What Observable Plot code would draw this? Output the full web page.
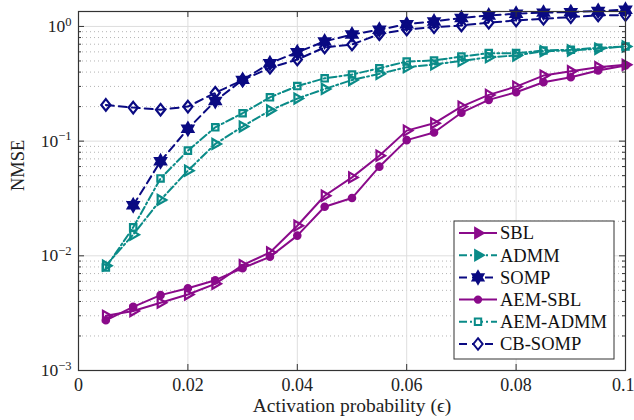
<!DOCTYPE html>
<html><head><meta charset="utf-8">
<script src="https://cdn.jsdelivr.net/npm/d3@7"></script>
<script src="https://cdn.jsdelivr.net/npm/@observablehq/plot@0.6"></script>
<style>
html,body{margin:0;padding:0;background:#fff;}
#chart{width:634px;height:420px;}
</style></head><body><div id="chart"></div>
<script>
// ---- data ----
const eps = [0.005, 0.01, 0.015, 0.02, 0.025, 0.03, 0.035, 0.04, 0.045, 0.05,
             0.055, 0.06, 0.065, 0.07, 0.075, 0.08, 0.085, 0.09, 0.095, 0.1];
const sbl     = [0.0030, 0.0033, 0.0039, 0.0046, 0.0057, 0.0083, 0.0107, 0.0183, 0.0334, 0.0483,
                 0.0747, 0.1235, 0.143, 0.200, 0.253, 0.299, 0.373, 0.407, 0.441, 0.463];
const admm    = [0.0082, 0.0153, 0.0307, 0.0553, 0.0945, 0.134, 0.185, 0.235, 0.285, 0.341,
                 0.386, 0.441, 0.466, 0.500, 0.539, 0.558, 0.609, 0.617, 0.639, 0.669];
const somp    = [null, 0.0276, 0.0667, 0.128, 0.224, 0.342, 0.478, 0.596, 0.740, 0.851,
                 0.936, 1.047, 1.106, 1.186, 1.247, 1.291, 1.320, 1.333, 1.366, 1.40];
const aemSbl  = [0.00274, 0.00359, 0.00454, 0.00522, 0.00613, 0.00781, 0.0098, 0.0150, 0.0268, 0.0319,
                 0.0599, 0.102, 0.119, 0.177, 0.229, 0.267, 0.326, 0.361, 0.413, 0.456];
const aemAdmm = [0.0079, 0.0177, 0.0473, 0.0826, 0.132, 0.175, 0.241, 0.302, 0.353, 0.381,
                 0.432, 0.495, 0.505, 0.547, 0.585, 0.585, 0.617, 0.626, 0.652, 0.669];
const cbSomp  = [0.207, 0.196, 0.188, 0.200, 0.264, 0.340, 0.436, 0.515, 0.656, 0.696,
                 0.857, 0.942, 0.986, 1.02, 1.079, 1.128, 1.168, 1.206, 1.247, 1.257];
const xTicks = [0, 0.02, 0.04, 0.06, 0.08, 0.1];
const yMajor = [1e-3, 1e-2, 1e-1, 1];
const xLabel = "Activation probability (ϵ)";
const yLabel = "NMSE";

// ---- symbols ----
const triRight = {draw(c, size){ const R = Math.sqrt(size/Math.PI)*1.2;
  c.moveTo(R,0); c.lineTo(-R/2,-R*0.866); c.lineTo(-R/2,R*0.866); c.closePath(); }};
const hexagram = {draw(c, size){ const R = Math.sqrt(size/Math.PI)*1.25, r = R/Math.sqrt(3);
  for (let i=0;i<12;i++){ const a=-Math.PI/2+i*Math.PI/6, q=i%2?r:R;
    const x=q*Math.cos(a), y=q*Math.sin(a); i?c.lineTo(x,y):c.moveTo(x,y);} c.closePath(); }};
const diamondM = {draw(c, size){ const R = Math.sqrt(size/Math.PI)*1.2, w=R*0.8;
  c.moveTo(0,-R); c.lineTo(w,0); c.lineTo(0,R); c.lineTo(-w,0); c.closePath(); }};

const purple = "#8a0a8a", teal = "#0a8b88", navy = "#0a0a82";
const dashDot = "8,3,2,3", dashed = "8,5";
const series = [
  {name:"SBL",      values:sbl,     color:purple, dash:null,    symbol:triRight,        fill:"none", lfill:purple, r:4.8},
  {name:"ADMM",     values:admm,    color:teal,   dash:dashDot, symbol:triRight,        fill:"none", lfill:teal,   r:4.8},
  {name:"SOMP",     values:somp,    color:navy,   dash:dashed,  symbol:hexagram,        fill:navy,   lfill:navy,   r:5},
  {name:"AEM-SBL",  values:aemSbl,  color:purple, dash:null,    symbol:d3.symbolCircle, fill:purple, lfill:purple, r:3.2},
  {name:"AEM-ADMM", values:aemAdmm, color:teal,   dash:dashDot, symbol:d3.symbolSquare, fill:"none", lfill:"white",  r:3.6},
  {name:"CB-SOMP",  values:cbSomp,  color:navy,   dash:dashed,  symbol:diamondM,        fill:"none", lfill:"white",  r:4.8},
];

const W = 634, H = 420, mL = 78, mR = 9, mT = 11, mB = 50;
const fh = H - mT - mB, fw = W - mL - mR;
const yMinor = [];
for (let k = -3; k < 0; k++) for (let m = 2; m <= 9; m++) yMinor.push(m * Math.pow(10, k));
const FONT = "Liberation Serif, DejaVu Serif, serif";

const marks = [
  Plot.gridY(yMinor, {stroke:"#b4b4b4", strokeOpacity:1, strokeDasharray:"1,3"}),
  Plot.gridX(xTicks, {stroke:"#dedede", strokeOpacity:1}),
  Plot.gridY(yMajor, {stroke:"#dedede", strokeOpacity:1}),
];
for (const s of series) {
  const rows = eps.map((e,i)=>({eps:e, v:s.values[i]})).filter(d=>d.v!=null);
  marks.push(Plot.line(rows, {x:"eps", y:"v", stroke:s.color, strokeWidth:2, strokeDasharray:s.dash}));
  marks.push(Plot.dot(rows, {x:"eps", y:"v", symbol:s.symbol, r:s.r, stroke:s.color, strokeWidth:2.2, fill:s.fill}));
}
const tc = "#333";
marks.push(
  Plot.tickX(xTicks, {x:d=>d, insetTop:fh-6, stroke:tc}),
  Plot.tickX(xTicks, {x:d=>d, insetBottom:fh-6, stroke:tc}),
  Plot.tickY(yMajor, {y:d=>d, insetRight:fw-6, stroke:tc}),
  Plot.tickY(yMajor, {y:d=>d, insetLeft:fw-6, stroke:tc}),
  Plot.tickY(yMinor, {y:d=>d, insetRight:fw-3, stroke:tc}),
  Plot.tickY(yMinor, {y:d=>d, insetLeft:fw-3, stroke:tc}),
  Plot.frame({stroke:"#333", strokeWidth:1.2}),
  Plot.axisX(xTicks, {tickSize:0, tickPadding:8, tickFormat:d=>String(d), label:null, fontSize:18, fontFamily:FONT}),
  Plot.axisY(yMajor, {tickSize:0, tickPadding:7, tickFormat:d=>String(Math.round(Math.log10(d))), label:null, fontSize:17.5, fontFamily:FONT}),
  Plot.text([xLabel], {frameAnchor:"bottom", dy:41, text:d=>d, fontSize:19.5, fontFamily:FONT}),
  Plot.text([yLabel], {frameAnchor:"left", dx:-60, rotate:-90, text:d=>d, fontSize:18.5, fontFamily:FONT})
);

const svg = Plot.plot({
  width:W, height:H, marginLeft:mL, marginRight:mR, marginTop:mT, marginBottom:mB,
  x:{domain:[0,0.1]},
  y:{type:"log", domain:[1e-3,1.35]},
  style:{fontFamily:FONT, fontSize:"18px", background:"white", color:"#222"},
  marks
});
document.getElementById("chart").appendChild(svg);

// superscript exponents on y tick labels
d3.select(svg).selectAll('g[aria-label="y-axis tick label"] text').each(function(){
  const e = this.textContent.replace("-", "−");
  this.textContent = "";
  const t = d3.select(this);
  t.append("tspan").text("10");
  t.append("tspan").attr("dy","-0.5em").attr("font-size","12.5px").text(e);
});
// keep the last x tick label inside the picture
const xl = d3.select(svg).selectAll('g[aria-label="x-axis tick label"] text').nodes();
if (xl.length) { const last = xl[xl.length-1]; last.setAttribute("text-anchor","end"); last.setAttribute("dx", "9"); }

// legend
const lg = d3.select(svg).append("g").attr("transform","translate(454,221)");
lg.append("rect").attr("width",160).attr("height",138).attr("fill","white").attr("stroke","#333").attr("stroke-width",1);
series.forEach((s,i)=>{
  const y = 12 + i*22.2;
  lg.append("line").attr("x1",5).attr("x2",43).attr("y1",y).attr("y2",y)
    .attr("stroke",s.color).attr("stroke-width",2).attr("stroke-dasharray",s.dash);
  lg.append("path").attr("transform",`translate(24,${y})`)
    .attr("d", d3.symbol(s.symbol, Math.PI*s.r*s.r)())
    .attr("stroke",s.color).attr("stroke-width",2).attr("fill", s.lfill);
  lg.append("text").attr("x",46).attr("y",y).attr("dy","0.35em").attr("text-anchor","start")
    .attr("font-family",FONT).attr("font-size","18.5px").attr("fill","#111").text(s.name);
});
</script></body></html>
